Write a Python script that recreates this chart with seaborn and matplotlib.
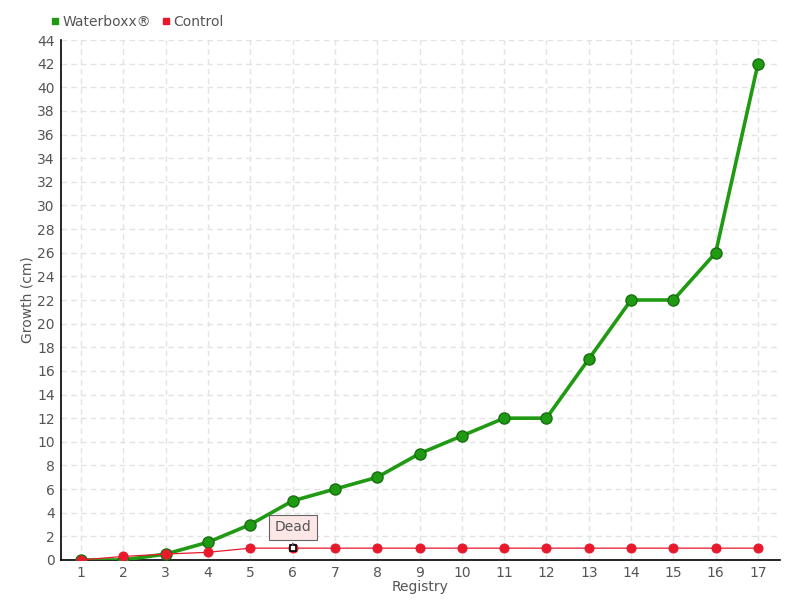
#!/usr/bin/env python3
"""Waterboxx vs control growth by registry."""

import matplotlib
matplotlib.use("Agg")
import matplotlib.pyplot as plt
from matplotlib.lines import Line2D
import pandas as pd
import seaborn as sns

registry = list(range(1, 18))
waterboxx = [0, 0, 0.5, 1.5, 3, 5, 6, 7, 9, 10.5, 12, 12, 17, 22, 22, 26, 42]
control = [0, 0.3, 0.5, 0.65, 1, 1, 1, 1, 1, 1, 1, 1, 1, 1, 1, 1, 1]
dead_registry = 6
y_ticks = list(range(0, 46, 2))

GREEN = "#1f9a12"
RED = "#e8192c"
TEXT = "#555555"

sns.set_theme(style="white")
plt.rcParams["font.family"] = ["DejaVu Sans"]

df = pd.DataFrame({"registry": registry, "Waterboxx®": waterboxx, "Control": control})

fig = plt.figure(figsize=(8, 6), dpi=100)
ax = fig.add_axes([0.07625, 0.0667, 0.89875, 0.8666])

sns.lineplot(data=df, x="registry", y="Waterboxx®", ax=ax, color=GREEN, linewidth=2.6,
             marker="o", markersize=8, markerfacecolor=GREEN, markeredgecolor="#17700e",
             markeredgewidth=1, zorder=3)
sns.lineplot(data=df, x="registry", y="Control", ax=ax, color=RED, linewidth=0.9,
             marker="o", markersize=6.5, markerfacecolor=RED, markeredgecolor=RED, zorder=4)

# dead plant marker
dead_val = control[registry.index(dead_registry)]
ax.plot([dead_registry], [dead_val], marker="s", markersize=4.5, markerfacecolor="white",
        markeredgecolor="black", markeredgewidth=1.2, zorder=5, linestyle="none")
ax.annotate("Dead", xy=(dead_registry, dead_val), xytext=(0, 15), textcoords="offset points",
            ha="center", va="center", fontsize=10, color=TEXT,
            bbox=dict(boxstyle="square,pad=0.4", facecolor="#fde6e6", edgecolor="#666666", linewidth=0.8),
            arrowprops=dict(arrowstyle="-", color="#666666", lw=0.8), zorder=6)

ax.set_xlim(0.527, 17.52)
ax.set_ylim(0, 44)
ax.set_xticks(registry)
ax.set_yticks(y_ticks)
ax.grid(True, color="#e3e3e3", linestyle=(0, (4, 3)), linewidth=1)
for s in ["top", "right"]:
    ax.spines[s].set_visible(False)
for s in ["left", "bottom"]:
    ax.spines[s].set_color("black")
    ax.spines[s].set_linewidth(1.2)
ax.tick_params(axis="both", colors=TEXT, labelsize=10, length=5, width=1, direction="inout",
               color="black", pad=2)
ax.set_xlabel("Registry", color=TEXT, fontsize=10, labelpad=0)
ax.set_ylabel("Growth (cm)", color=TEXT, fontsize=10, labelpad=2)

handles = [
    Line2D([], [], marker="s", linestyle="none", markersize=5, color=GREEN, label="Waterboxx®"),
    Line2D([], [], marker="s", linestyle="none", markersize=5, color=RED, label="Control"),
]
leg = fig.legend(handles=handles, loc="center left", bbox_to_anchor=(0.052, 0.963), ncol=2,
                 frameon=False, fontsize=10, handletextpad=0.0, columnspacing=0.6,
                 handlelength=1.0, borderpad=0)
for t in leg.get_texts():
    t.set_color(TEXT)

fig.savefig("out.png", dpi=100)
